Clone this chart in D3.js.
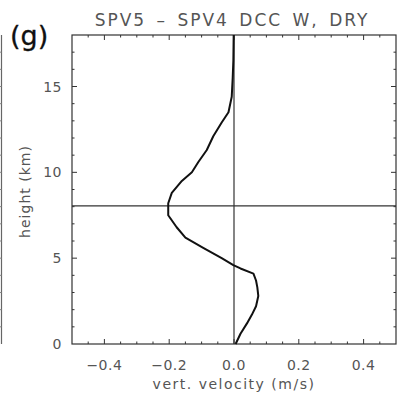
<!DOCTYPE html>
<html>
<head>
<meta charset="utf-8">
<script src="https://cdn.jsdelivr.net/npm/d3@7"></script>
<style>
  body { margin: 0; background: #fff; }
  svg { display: block; font-family: "DejaVu Sans", sans-serif; }
  .tick-label { fill: #555; font-size: 14px; letter-spacing: 0.5px; }
  .axis-title { fill: #555; font-size: 14px; }
</style>
</head>
<body>
<svg id="chart" width="410" height="401"></svg>
<script>
// profile: height (km) vs. SPV5 - SPV4 vertical velocity difference (m/s)
const heights = [0, 0.6, 1.2, 1.7, 2.2, 2.8, 3.3, 3.7, 4.1, 4.4, 4.6, 5.0, 5.6, 6.2, 6.8, 7.5, 8.2, 8.8, 9.5, 10.0, 10.6, 11.3, 12.1, 12.9, 13.5, 14.4, 15.5, 16.5, 18.0];
const wDiff   = [0.005, 0.02, 0.04, 0.055, 0.068, 0.075, 0.072, 0.068, 0.06, 0.02, -0.002, -0.038, -0.095, -0.15, -0.177, -0.203, -0.203, -0.192, -0.161, -0.13, -0.11, -0.084, -0.064, -0.038, -0.017, -0.007, -0.004, -0.002, -0.001];

const xMajor = [-0.4, -0.2, 0.0, 0.2, 0.4];
const yMajor = [0, 5, 10, 15];
const xDomain = [-0.5, 0.5];
const yDomain = [0, 18];
const refHeight = 8.05; // horizontal reference line (km)

const titleText = "SPV5 \u2013 SPV4 DCC W, DRY";
const panelLabel = "(g)";
const xTitle = "vert. velocity (m/s)";
const yTitle = "height (km)";

const svg = d3.select("#chart");
const box = {left: 72, right: 396, top: 35, bottom: 344};

const x = d3.scaleLinear().domain(xDomain).range([box.left, box.right]);
const y = d3.scaleLinear().domain(yDomain).range([box.bottom, box.top]);

const axisColor = "#333";

// neighbour panel edge on the far left
const leftEdge = svg.append("g");
leftEdge.append("line")
    .attr("x1", 1.5).attr("x2", 1.5)
    .attr("y1", box.top).attr("y2", box.bottom)
    .attr("stroke", "#666").attr("stroke-width", 1.2);
leftEdge.selectAll("line.nb")
    .data(d3.range(1, 18))
    .enter().append("line")
    .attr("class", "nb")
    .attr("x1", 0).attr("x2", 1.5)
    .attr("y1", d => y(d)).attr("y2", d => y(d))
    .attr("stroke", "#888");

// frame
svg.append("rect")
    .attr("x", box.left).attr("y", box.top)
    .attr("width", box.right - box.left)
    .attr("height", box.bottom - box.top)
    .attr("fill", "none")
    .attr("stroke", axisColor)
    .attr("stroke-width", 1.2);

// ticks on all four sides (IDL style, pointing inward)
const xMinor = d3.range(-0.45, 0.5, 0.05).map(v => +v.toFixed(2));
const yMinor = d3.range(1, 18, 1);
const isXMajor = v => xMajor.some(m => Math.abs(m - v) < 1e-6);
const isYMajor = v => yMajor.includes(v);

const ticks = svg.append("g").attr("stroke", axisColor).attr("stroke-width", 1);
xMinor.forEach(v => {
    let len = isXMajor(v) ? 5 : 2.5;
    ticks.append("line")
        .attr("x1", x(v)).attr("x2", x(v))
        .attr("y1", box.bottom).attr("y2", box.bottom - len);
    ticks.append("line")
        .attr("x1", x(v)).attr("x2", x(v))
        .attr("y1", box.top).attr("y2", box.top + len);
});
yMinor.forEach(v => {
    let len = isYMajor(v) ? 5 : 2.5;
    ticks.append("line")
        .attr("x1", box.left).attr("x2", box.left + len)
        .attr("y1", y(v)).attr("y2", y(v));
    ticks.append("line")
        .attr("x1", box.right).attr("x2", box.right - len)
        .attr("y1", y(v)).attr("y2", y(v));
});

// tick labels
const fmtX = d => d3.format(".1f")(d).replace("-", "\u2212");
svg.append("g").selectAll("text")
    .data(xMajor)
    .enter().append("text")
    .attr("class", "tick-label")
    .attr("x", d => x(d))
    .attr("y", box.bottom + 26)
    .attr("text-anchor", "middle")
    .text(fmtX);

svg.append("g").selectAll("text")
    .data(yMajor)
    .enter().append("text")
    .attr("class", "tick-label")
    .attr("x", box.left - 10)
    .attr("y", d => y(d) + 5)
    .attr("text-anchor", "end")
    .text(d => d);

// reference lines
svg.append("line")
    .attr("x1", x(0)).attr("x2", x(0))
    .attr("y1", box.top).attr("y2", box.bottom)
    .attr("stroke", axisColor).attr("stroke-width", 1.2);
svg.append("line")
    .attr("x1", box.left).attr("x2", box.right)
    .attr("y1", y(refHeight)).attr("y2", y(refHeight))
    .attr("stroke", axisColor).attr("stroke-width", 1.2);

// profile
const profile = heights.map((h, i) => ({h: h, w: wDiff[i]}));
svg.append("path")
    .datum(profile)
    .attr("d", d3.line().x(d => x(d.w)).y(d => y(d.h)))
    .attr("fill", "none")
    .attr("stroke", "#111")
    .attr("stroke-width", 2)
    .attr("stroke-linejoin", "round");

// titles
svg.append("text")
    .attr("x", 232)
    .attr("y", 26)
    .attr("text-anchor", "middle")
    .attr("fill", "#555")
    .style("font-size", "17px")
    .style("letter-spacing", "2px")
    .style("word-spacing", "3px")
    .text(titleText);

svg.append("text")
    .attr("x", 10)
    .attr("y", 45)
    .attr("fill", "#111")
    .attr("stroke", "#111")
    .attr("stroke-width", 0.3)
    .style("font-size", "27px")
    .text(panelLabel);

svg.append("text")
    .attr("x", x(0))
    .attr("y", 389)
    .attr("text-anchor", "middle")
    .attr("class", "axis-title")
    .style("letter-spacing", "1.5px")
    .text(xTitle);

svg.append("text")
    .attr("transform", `translate(30, ${(box.top + box.bottom) / 2 + 2}) rotate(-90)`)
    .attr("text-anchor", "middle")
    .attr("class", "axis-title")
    .style("letter-spacing", "1px")
    .text(yTitle);
</script>
</body>
</html>
